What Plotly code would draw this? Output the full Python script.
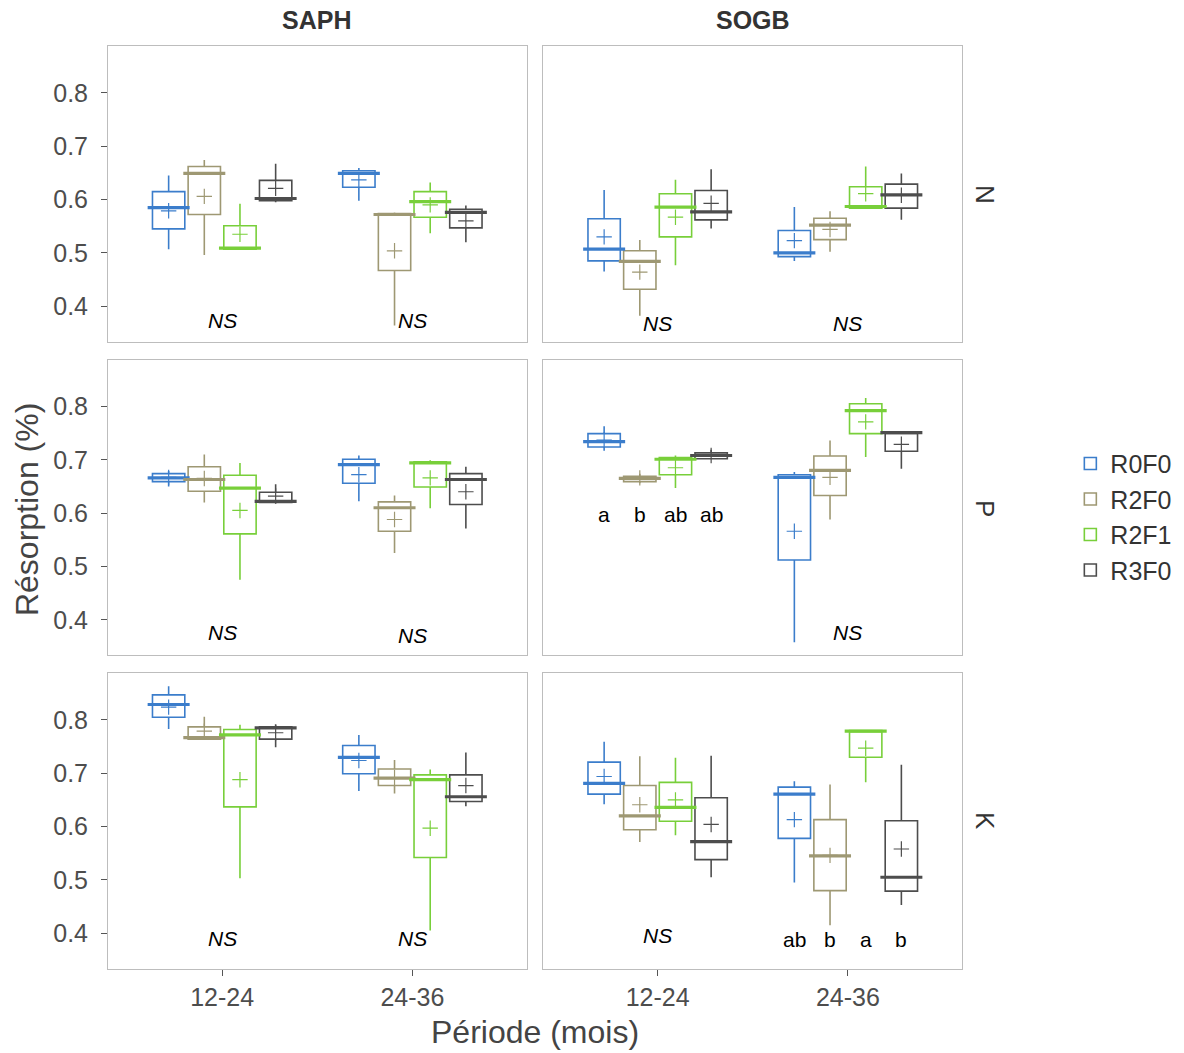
import plotly.graph_objects as go
from plotly.subplots import make_subplots

# ---------------- data ----------------
treatments = ["R0F0", "R2F0", "R2F1", "R3F0"]
periods = ["12-24", "24-36"]
sites = ["SAPH", "SOGB"]
elements = ["N", "P", "K"]

# statistics indexed [element][site][period][treatment]
whisker_low = [
    [[[0.507, 0.496, 0.507, 0.595], [0.598, 0.364, 0.537, 0.520]],
     [[0.465, 0.382, 0.477, 0.546], [0.485, 0.502, 0.584, 0.562]]],
    [[[0.650, 0.620, 0.475, 0.618], [0.622, 0.525, 0.609, 0.571]],
     [[0.717, 0.656, 0.647, 0.701], [0.358, 0.588, 0.705, 0.683]]],
    [[[0.783, 0.764, 0.503, 0.749], [0.667, 0.662, 0.405, 0.638]],
     [[0.642, 0.571, 0.584, 0.505], [0.495, 0.415, 0.683, 0.453]]],
]
quart1 = [
    [[[0.545, 0.572, 0.507, 0.598], [0.623, 0.467, 0.567, 0.547]],
     [[0.485, 0.432, 0.530, 0.562], [0.493, 0.525, 0.584, 0.584]]],
    [[[0.659, 0.641, 0.561, 0.620], [0.656, 0.566, 0.649, 0.616]],
     [[0.724, 0.659, 0.672, 0.702], [0.512, 0.633, 0.749, 0.716]]],
    [[[0.805, 0.764, 0.637, 0.764], [0.699, 0.677, 0.542, 0.647]],
     [[0.661, 0.594, 0.610, 0.538], [0.578, 0.480, 0.730, 0.479]]],
]
medians = [
    [[[0.585, 0.649, 0.509, 0.602], [0.649, 0.572, 0.596, 0.576]],
     [[0.507, 0.484, 0.586, 0.577], [0.500, 0.552, 0.587, 0.609]]],
    [[[0.666, 0.663, 0.647, 0.622], [0.691, 0.610, 0.694, 0.663]],
     [[0.734, 0.665, 0.701, 0.708], [0.667, 0.680, 0.792, 0.751]]],
    [[[0.829, 0.767, 0.772, 0.785], [0.730, 0.691, 0.688, 0.656]],
     [[0.681, 0.620, 0.636, 0.572], [0.661, 0.545, 0.779, 0.505]]],
]
quart3 = [
    [[[0.615, 0.662, 0.551, 0.636], [0.654, 0.574, 0.615, 0.582]],
     [[0.564, 0.504, 0.611, 0.617], [0.542, 0.565, 0.624, 0.629]]],
    [[[0.674, 0.687, 0.671, 0.639], [0.701, 0.621, 0.696, 0.674]],
     [[0.749, 0.669, 0.704, 0.713], [0.672, 0.707, 0.805, 0.751]]],
    [[[0.847, 0.787, 0.782, 0.787], [0.752, 0.708, 0.697, 0.697]],
     [[0.721, 0.677, 0.683, 0.654], [0.674, 0.613, 0.780, 0.611]]],
]
whisker_high = [
    [[[0.645, 0.674, 0.592, 0.667], [0.659, 0.576, 0.632, 0.589]],
     [[0.618, 0.524, 0.637, 0.657], [0.586, 0.578, 0.662, 0.649]]],
    [[[0.679, 0.710, 0.694, 0.654], [0.708, 0.633, 0.699, 0.687]],
     [[0.763, 0.674, 0.708, 0.719], [0.677, 0.736, 0.816, 0.751]]],
    [[[0.863, 0.806, 0.791, 0.792], [0.772, 0.725, 0.707, 0.739]],
     [[0.759, 0.732, 0.729, 0.733], [0.685, 0.679, 0.780, 0.716]]],
]
means = [
    [[[0.579, 0.606, 0.535, 0.621], [0.637, 0.504, 0.590, 0.560]],
     [[0.530, 0.464, 0.567, 0.593], [0.523, 0.544, 0.611, 0.608]]],
    [[[0.667, 0.665, 0.605, 0.632], [0.672, 0.588, 0.666, 0.640]],
     [[0.737, 0.666, 0.685, 0.708], [0.566, 0.667, 0.771, 0.729]]],
    [[[0.824, 0.779, 0.688, 0.776], [0.724, 0.692, 0.597, 0.677]],
     [[0.694, 0.641, 0.650, 0.604], [0.613, 0.546, 0.747, 0.558]]],
]

# significance labels: (element, site, period, treatment or None, text, y)
sig_labels = [
    (0, 0, 0, None, "NS", 0.373), (0, 0, 1, None, "NS", 0.373),
    (0, 1, 0, None, "NS", 0.367), (0, 1, 1, None, "NS", 0.367),
    (1, 0, 0, None, "NS", 0.377), (1, 0, 1, None, "NS", 0.371),
    (1, 1, 0, 0, "a", 0.598), (1, 1, 0, 1, "b", 0.598),
    (1, 1, 0, 2, "ab", 0.598), (1, 1, 0, 3, "ab", 0.598),
    (1, 1, 1, None, "NS", 0.377),
    (2, 0, 0, None, "NS", 0.390), (2, 0, 1, None, "NS", 0.390),
    (2, 1, 0, None, "NS", 0.395),
    (2, 1, 1, 0, "ab", 0.388), (2, 1, 1, 1, "b", 0.388),
    (2, 1, 1, 2, "a", 0.388), (2, 1, 1, 3, "b", 0.388),
]

# ---------------- style ----------------
colors = ["#3b7dcb", "#9e9873", "#78cf3a", "#4d4d4d"]
FONT = "Liberation Sans, Arial, sans-serif"
dodge = 0.1875
box_w = 0.17
y_range = [0.333, 0.888]

fig = make_subplots(rows=3, cols=2, horizontal_spacing=0.0199,
                    vertical_spacing=0.019)

for ei in range(len(elements)):
    for si in range(len(sites)):
        r, c = ei + 1, si + 1
        for ti, tr in enumerate(treatments):
            xs = [pi + 1 + (ti - 1.5) * dodge for pi in range(len(periods))]
            col = colors[ti]
            fig.add_trace(go.Box(
                x=xs,
                q1=[quart1[ei][si][p][ti] for p in range(2)],
                median=[medians[ei][si][p][ti] for p in range(2)],
                q3=[quart3[ei][si][p][ti] for p in range(2)],
                lowerfence=[whisker_low[ei][si][p][ti] for p in range(2)],
                upperfence=[whisker_high[ei][si][p][ti] for p in range(2)],
                width=box_w, whiskerwidth=0,
                line=dict(color=col, width=1.6),
                fillcolor="rgba(255,255,255,0)",
                boxpoints=False, name=tr, legendgroup=tr,
                showlegend=(ei == 0 and si == 0),
                hoverinfo="skip",
            ), row=r, col=c)
            # thick median
            fig.add_trace(go.Scatter(
                x=xs, y=[medians[ei][si][p][ti] for p in range(2)],
                mode="markers",
                marker=dict(symbol="line-ew", size=30,
                            line=dict(color=col, width=3.2)),
                showlegend=False, legendgroup=tr, hoverinfo="skip",
            ), row=r, col=c)
            # mean cross
            fig.add_trace(go.Scatter(
                x=xs, y=[means[ei][si][p][ti] for p in range(2)],
                mode="markers",
                marker=dict(symbol="cross-thin", size=11,
                            line=dict(color=col, width=1.2)),
                showlegend=False, legendgroup=tr, hoverinfo="skip",
            ), row=r, col=c)

# significance annotations
for (ei, si, pi, ti, txt, yv) in sig_labels:
    axn = ei * 2 + si + 1
    xref = "x" if axn == 1 else f"x{axn}"
    yref = "y" if axn == 1 else f"y{axn}"
    xv = pi + 1 + ((ti - 1.5) * dodge if ti is not None else 0)
    label = f"<i>{txt}</i>" if txt == "NS" else txt
    fig.add_annotation(x=xv, y=yv, xref=xref, yref=yref, text=label,
                       showarrow=False,
                       font=dict(family=FONT, size=21, color="black"),
                       xanchor="center", yanchor="middle")

# axes
for ei in range(3):
    for si in range(2):
        r, c = ei + 1, si + 1
        bottom = (r == 3)
        left = (c == 1)
        fig.update_xaxes(range=[0.4, 2.6], tickvals=[1, 2], ticktext=periods,
                         showticklabels=bottom,
                         ticks="outside" if bottom else "",
                         ticklen=6, tickcolor="#555555", tickwidth=1,
                         showline=True, mirror=True, linecolor="#bdbdbd",
                         linewidth=1, showgrid=False, zeroline=False,
                         tickfont=dict(family=FONT, size=25, color="#4d4d4d"),
                         row=r, col=c)
        fig.update_yaxes(range=y_range, tickvals=[0.4, 0.5, 0.6, 0.7, 0.8],
                         ticktext=["0.4", "0.5", "0.6", "0.7", "0.8"],
                         showticklabels=left,
                         ticks="outside" if left else "",
                         ticklen=6, tickcolor="#555555", tickwidth=1,
                         ticklabelstandoff=8,
                         showline=True, mirror=True, linecolor="#bdbdbd",
                         linewidth=1, showgrid=False, zeroline=False,
                         tickfont=dict(family=FONT, size=25, color="#4d4d4d"),
                         row=r, col=c)

# strip labels
for si, site in enumerate(sites):
    fig.add_annotation(x=[0.2447, 0.7547][si], y=1.028, xref="paper",
                       yref="paper", text=f"<b>{site}</b>", showarrow=False,
                       font=dict(family=FONT, size=25, color="#333333"),
                       xanchor="center", yanchor="middle")
for ei, el in enumerate(elements):
    fig.add_annotation(x=1.027, y=[0.8397, 0.4995, 0.1603][ei], xref="paper",
                       yref="paper", text=el, showarrow=False,
                       textangle=90,
                       font=dict(family=FONT, size=26, color="#333333"),
                       xanchor="center", yanchor="middle")

# axis titles
fig.add_annotation(x=0.5, y=-0.068, xref="paper", yref="paper",
                   text="Période (mois)", showarrow=False,
                   font=dict(family=FONT, size=32, color="#444444"),
                   xanchor="center", yanchor="middle")
fig.add_annotation(x=-0.094, y=0.498, xref="paper", yref="paper",
                   text="Résorption (%)", showarrow=False, textangle=-90,
                   font=dict(family=FONT, size=32, color="#444444"),
                   xanchor="center", yanchor="middle")

fig.update_layout(
    width=1184, height=1053,
    margin=dict(l=108, r=222, t=46, b=84, autoexpand=False),
    paper_bgcolor="white", plot_bgcolor="white",
    showlegend=True,
    legend=dict(x=0.904, xref="container", y=0.49, xanchor="left",
                yanchor="middle",
                font=dict(family=FONT, size=25, color="#333333"),
                bgcolor="rgba(0,0,0,0)", tracegroupgap=0, itemwidth=30),
    font=dict(family=FONT),
)

fig.write_html(
    "out.html",
    config={"displayModeBar": False},
    post_script="document.body.style.margin='0';"
                "document.body.style.overflow='hidden';",
)
